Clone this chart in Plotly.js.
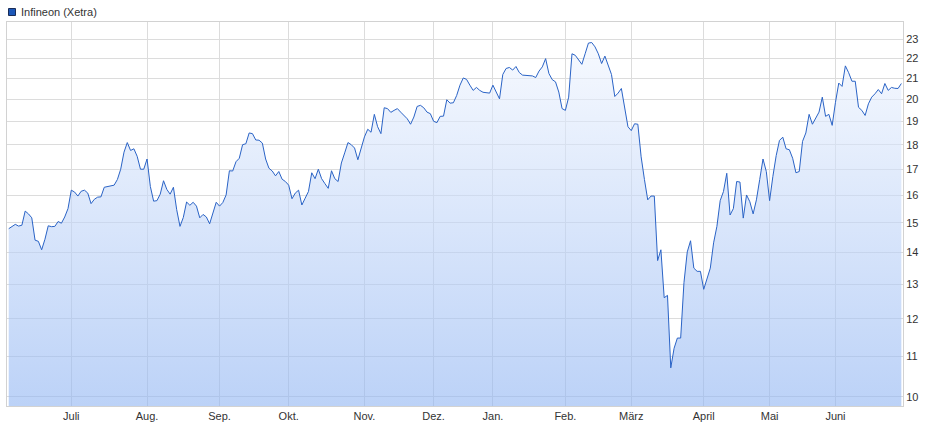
<!DOCTYPE html>
<html><head><meta charset="utf-8">
<script src="https://cdn.plot.ly/plotly-3.0.1.min.js"></script>
<style>html,body{margin:0;padding:0;background:#fff}#chart{width:929px;height:422px}</style>
</head><body><div id="chart"></div>
<script>
const seriesName = "Infineon (Xetra)";
const startDate = "2019-06-04";
const holidays = ["2019-12-24","2019-12-25","2019-12-26","2019-12-31","2020-01-01","2020-04-10","2020-04-13","2020-05-01"];
const monthLabels = ["Juli","Aug.","Sep.","Okt.","Nov.","Dez.","Jan.","Feb.","März","April","Mai","Juni"];
const yTicks = [10,11,12,13,14,15,16,17,18,19,20,21,22,23];
const prices = [
14.8,14.88,14.95,14.89,14.92,15.42,15.32,15.18,14.41,14.37,14.09,14.44,14.9,14.87,14.88,15.05,14.99,15.21,15.51,16.19,
16.12,15.97,16.15,16.19,16.08,15.69,15.85,15.93,15.94,16.3,16.32,16.36,16.38,16.6,17.0,17.69,18.09,17.76,17.83,17.52,
17.0,17.0,17.41,16.33,15.78,15.8,16.04,16.55,16.22,16.04,16.3,15.47,14.88,15.19,15.75,15.63,15.74,15.6,15.18,15.3,
15.21,14.97,15.38,15.74,15.6,15.73,16.01,16.94,16.93,17.3,17.44,18.0,18.04,18.5,18.47,18.2,18.19,18.07,17.41,17.04,
16.93,16.74,16.91,16.61,16.52,16.38,15.87,16.08,16.19,15.64,15.89,16.14,16.86,16.63,17.0,16.63,16.44,16.26,16.94,16.63,
16.52,17.25,17.66,18.09,18.0,17.86,17.38,17.86,18.33,18.66,18.53,19.32,18.77,18.47,19.62,19.58,19.41,19.5,19.58,19.42,
19.27,19.12,18.88,19.2,19.68,19.73,19.62,19.42,19.35,19.01,18.95,19.23,19.24,19.99,19.83,19.85,20.19,20.68,21.03,20.96,
20.68,20.43,20.57,20.43,20.34,20.32,20.3,20.68,20.35,20.03,21.2,21.5,21.55,21.42,21.6,21.3,21.17,21.15,21.12,21.13,
21.05,21.37,21.58,22.0,21.25,20.95,20.84,20.35,19.58,19.5,20.11,22.25,22.17,21.95,21.71,22.25,22.81,22.84,22.61,22.25,
21.75,22.13,21.7,21.2,20.14,20.3,20.52,19.58,18.77,18.6,18.9,18.88,17.5,16.6,15.83,15.97,15.97,13.74,14.09,12.6,
12.67,10.7,11.2,11.47,11.47,13.05,14.02,14.39,13.5,13.4,13.4,12.85,13.2,13.5,14.32,14.88,15.8,16.14,16.84,15.28,
15.51,16.52,16.5,15.17,16.01,15.76,15.32,15.83,16.6,17.41,16.91,15.8,16.72,17.55,18.18,18.32,17.83,17.79,17.44,16.86,
16.91,18.14,18.5,19.32,18.88,19.12,19.42,20.11,19.23,19.32,18.83,19.87,20.78,20.62,21.63,21.29,20.87,20.87,19.64,19.5,
19.27,19.8,20.11,20.27,20.47,20.27,20.76,20.43,20.57,20.53,20.52,20.76
];

// trading calendar (Xetra): weekdays without exchange holidays
const dates = [];
let d = new Date(startDate + "T00:00:00Z");
while (dates.length < prices.length) {
  const iso = d.toISOString().slice(0,10);
  const wd = d.getUTCDay();
  if (wd !== 0 && wd !== 6 && holidays.indexOf(iso) < 0) dates.push(iso);
  d.setUTCDate(d.getUTCDate() + 1);
}
const idx = dates.map((_, i) => i);
const monthStarts = [];
for (let i = 1; i < dates.length; i++) {
  if (dates[i].slice(5,7) !== dates[i-1].slice(5,7)) monthStarts.push(i);
}

const yMin = 9.79, yMax = 23.96;
const W = 929, H = 422, mL = 7, mR = 26, mT = 22, mB = 16;
const pw = W - mL - mR, ph = H - mT - mB;
const px = v => (v - mL) / pw;
const py = v => (H - mB - v) / ph;
const font = "'Liberation Sans', Arial, sans-serif";

const traces = [
  {x: idx, y: idx.map(() => yMin), type: 'scatter', mode: 'lines', line: {width: 0, color: 'rgba(0,0,0,0)'}, hoverinfo: 'skip', showlegend: false},
  {x: idx, y: prices, text: dates, type: 'scatter', mode: 'lines', name: seriesName,
   line: {color: '#2a63c6', width: 1},
   fill: 'tonexty',
   fillgradient: {type: 'vertical', start: yMin, stop: yMax,
     colorscale: [[0, 'rgba(143,180,242,0.6)'], [1, 'rgba(246,249,255,0.6)']]},
   showlegend: false}
];

const layout = {
  width: W, height: H,
  margin: {l: mL, r: mR, t: mT, b: mB, pad: 0},
  paper_bgcolor: '#fff', plot_bgcolor: '#fff',
  font: {family: font, size: 11, color: '#333'},
  showlegend: false,
  xaxis: {
    range: [-0.52, 271.5], tickmode: 'array', tickvals: monthStarts, ticktext: monthLabels,
    showgrid: true, gridcolor: '#dcdcdc', gridwidth: 1, zeroline: false,
    showline: true, linecolor: '#d2d2d2', linewidth: 1, mirror: true, ticks: '',
    tickfont: {family: font, size: 11, color: '#333'}, fixedrange: true
  },
  yaxis: {
    type: 'log', side: 'right', range: [Math.log10(yMin), Math.log10(yMax)],
    tickmode: 'array', tickvals: yTicks, ticktext: yTicks.map(String),
    showgrid: true, gridcolor: '#dcdcdc', gridwidth: 1, zeroline: false,
    showline: true, linecolor: '#d2d2d2', linewidth: 1, mirror: true, ticks: '',
    tickfont: {family: font, size: 11, color: '#333'}, fixedrange: true
  },
  shapes: [
    {type: 'rect', xref: 'paper', yref: 'paper', x0: px(8.5), x1: px(15.5), y0: py(15.5), y1: py(8.5),
     fillcolor: '#1c57b8', line: {color: '#1a2d58', width: 1}}
  ],
  annotations: [
    {text: seriesName, xref: 'paper', yref: 'paper', x: px(18.5), y: py(12), xanchor: 'left', yanchor: 'middle',
     showarrow: false, font: {family: font, size: 11, color: '#333'}}
  ]
};

Plotly.newPlot('chart', traces, layout, {staticPlot: true, displayModeBar: false});
</script>
</body></html>
